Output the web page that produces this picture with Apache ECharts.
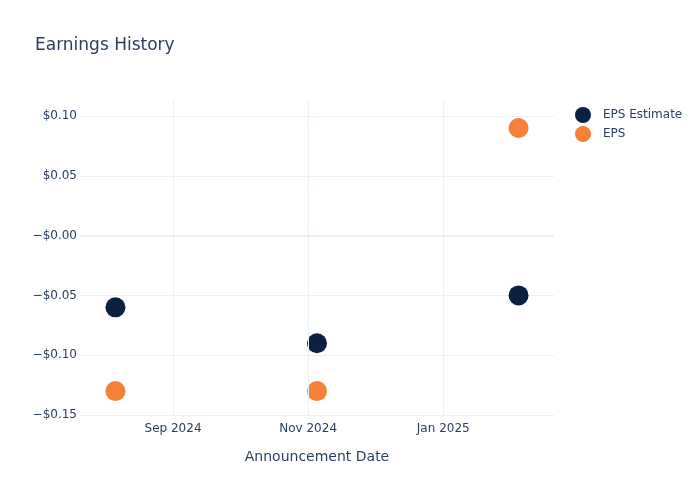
<!DOCTYPE html>
<html>
<head>
<meta charset="utf-8">
<script src="https://cdn.jsdelivr.net/npm/echarts@6/dist/echarts.min.js"></script>
<style>
  html, body { margin: 0; padding: 0; background: #fff; }
  #myChart { width: 700px; height: 500px; }
</style>
</head>
<body>
<div id="myChart"></div>
<script>
// Data
const dates = ["2024-08-06", "2024-11-05", "2025-02-04"];
const epsEstimate = [-0.06, -0.09, -0.05];
const eps = [-0.13, -0.13, 0.09];
const xTicks = ["2024-09-01", "2024-11-01", "2025-01-01"];
const xRange = ["2024-07-21", "2025-02-20"];
const yRange = [-0.15, 0.1134];

const toTs = (s) => { const p = s.split("-").map(Number); return Date.UTC(p[0], p[1] - 1, p[2]); };
const months = ["Jan", "Feb", "Mar", "Apr", "May", "Jun", "Jul", "Aug", "Sep", "Oct", "Nov", "Dec"];
const textColor = "#2a3f5f";
const gridColor = "#EBF0F8";

let myChart = echarts.init(document.getElementById("myChart"));

let option = {
  backgroundColor: "#fff",
  textStyle: { fontFamily: "DejaVu Sans, sans-serif" },
  title: {
    text: "Earnings History",
    left: 30,
    top: 32,
    textStyle: { fontSize: 17, fontWeight: "normal", color: textColor, fontFamily: "DejaVu Sans" },
  },
  legend: {
    orient: "vertical",
    left: 570,
    top: 102,
    itemWidth: 16,
    itemHeight: 16,
    itemGap: 3,
    icon: "circle",
    textStyle: { fontSize: 12, color: textColor, padding: [0, 0, 0, 7] },
    data: ["EPS Estimate", "EPS"],
  },
  grid: { left: 80, right: 146, top: 100, bottom: 85 },
  xAxis: {
    type: "value",
    min: toTs(xRange[0]),
    max: toTs(xRange[1]),
    name: "Announcement Date",
    nameLocation: "middle",
    nameGap: 35,
    nameTextStyle: { fontSize: 14, color: textColor },
    axisLine: { show: false },
    axisTick: { show: false, customValues: xTicks.map(toTs) },
    splitLine: { show: false },
    axisLabel: {
      customValues: xTicks.map(toTs),
      fontSize: 12,
      color: textColor,
      margin: 8,
      formatter: (v) => { const d = new Date(v); return months[d.getUTCMonth()] + " " + d.getUTCFullYear(); },
    },
  },
  yAxis: {
    type: "value",
    min: yRange[0],
    max: yRange[1],
    interval: 0.05,
    axisLine: { show: false },
    axisTick: { show: false },
    splitLine: { showMaxLine: false, lineStyle: { color: gridColor, width: 1 } },
    axisLabel: {
      fontSize: 12,
      color: textColor,
      margin: 3,
      padding: [2, 0, 0, 0],
      showMaxLabel: false,
      formatter: (v) => {
        if (Math.abs(v) < 1e-9) return "\u2212$0.00";
        return (v < 0 ? "\u2212$" : "$") + Math.abs(v).toFixed(2);
      },
    },
  },
  series: [
    {
      name: "grid-x",
      type: "line",
      data: [],
      silent: true,
      markLine: {
        silent: true,
        symbol: "none",
        label: { show: false },
        lineStyle: { color: gridColor, width: 1, type: "solid" },
        data: xTicks.map((t) => ({ xAxis: toTs(t) })).concat([{ yAxis: 0, lineStyle: { color: gridColor, width: 2, type: "solid" } }]),
      },
    },
    {
      name: "EPS Estimate",
      type: "scatter",
      symbolSize: 20,
      itemStyle: { color: "#0b1f41", opacity: 1 },
      data: dates.map((d, i) => [toTs(d), epsEstimate[i]]),
    },
    {
      name: "EPS",
      type: "scatter",
      symbolSize: 20,
      itemStyle: { color: "#f68038", opacity: 1 },
      data: dates.map((d, i) => [toTs(d), eps[i]]),
    },
  ],
};

myChart.setOption(option);
</script>
</body>
</html>
